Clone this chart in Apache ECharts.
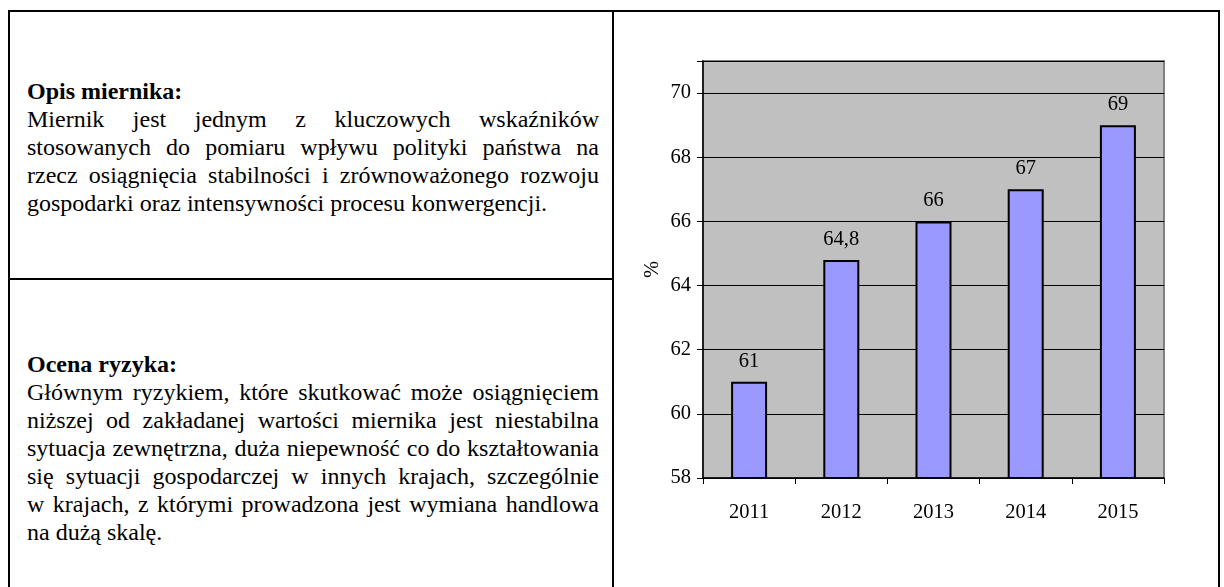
<!DOCTYPE html>
<html lang="pl">
<head>
    <meta charset="UTF-8">
    <title>Miernik</title>
    <script src="https://cdn.jsdelivr.net/npm/echarts@6/dist/echarts.min.js"></script>
    <style>
        body { margin: 0; background: #fff; }
        #frame { position: absolute; left: 8px; top: 10px; width: 1208px; height: 600px; border: 2px solid #000; }
        #divider { position: absolute; left: 602px; top: 0; width: 2px; height: 600px; background: #000; }
        #hline { position: absolute; left: 0; top: 266px; width: 602px; height: 2px; background: #000; }
        .cell { position: absolute; left: 17px; width: 572px; font-family: "Liberation Serif", "Times New Roman", serif; font-size: 24px; line-height: 28px; color: #000; display: flex; flex-direction: column; justify-content: center; }
        .cell b { display: block; }
        .ln { text-align: justify; text-align-last: justify; white-space: nowrap; }
        .ln.last { text-align-last: left; }
        #c1 { top: 2px; height: 266px; }
        #c2 { top: 270px; height: 332px; }
        #barDiv { position: absolute; left: 0; top: 0; width: 1224px; height: 587px; }
    </style>
</head>
<body>
    <div id="frame">
        <div id="divider"></div>
        <div id="hline"></div>
        <div class="cell" id="c1">
            <b>Opis miernika:</b>
            <div class="ln">Miernik jest jednym z kluczowych wskaźników</div>
            <div class="ln">stosowanych do pomiaru wpływu polityki państwa na</div>
            <div class="ln">rzecz osiągnięcia stabilności i zrównoważonego rozwoju</div>
            <div class="ln last">gospodarki oraz intensywności procesu konwergencji.</div>
        </div>
        <div class="cell" id="c2">
            <b>Ocena ryzyka:</b>
            <div class="ln">Głównym ryzykiem, które skutkować może osiągnięciem</div>
            <div class="ln">niższej od zakładanej wartości miernika jest niestabilna</div>
            <div class="ln">sytuacja zewnętrzna, duża niepewność co do kształtowania</div>
            <div class="ln">się sytuacji gospodarczej w innych krajach, szczególnie</div>
            <div class="ln">w krajach, z którymi prowadzona jest wymiana handlowa</div>
            <div class="ln last">na dużą skalę.</div>
        </div>
    </div>
    <div id="barDiv"></div>
    <script>
        var years = ['2011', '2012', '2013', '2014', '2015'];
        var values = [61, 64.8, 66, 67, 69];
        var yMin = 58, yMax = 71, yStep = 2;

        var chart = echarts.init(document.getElementById("barDiv"));
        var font = '"Liberation Serif", "Times New Roman", serif';

        var option = {
            animation: false,
            grid: {
                left: 703, right: 60, top: 61, bottom: 109,
                show: true,
                backgroundColor: '#C0C0C0',
                borderColor: '#808080',
                borderWidth: 2
            },
            xAxis: {
                type: 'category',
                data: years,
                axisLine: { lineStyle: { color: '#000', width: 1.5 } },
                axisTick: { show: true, length: 6, lineStyle: { color: '#000' } },
                axisLabel: { color: '#000', fontFamily: font, fontSize: 20.5, margin: 24 }
            },
            yAxis: {
                type: 'value',
                min: yMin,
                max: yMax,
                interval: yStep,
                name: '%',
                nameLocation: 'middle',
                nameRotate: 90,
                nameGap: 40,
                nameTextStyle: { color: '#000', fontFamily: font, fontSize: 20.5 },
                axisLine: { show: true, lineStyle: { color: '#000', width: 1.5 } },
                axisTick: { show: true, length: 6, lineStyle: { color: '#000' } },
                axisLabel: {
                    color: '#000', fontFamily: font, fontSize: 20.5, margin: 12,
                    formatter: function (v) { return v % yStep === 0 ? String(v) : ''; }
                },
                splitLine: { lineStyle: { color: '#000', width: 1 } }
            },
            series: [{
                type: 'bar',
                data: values,
                barWidth: 36,
                itemStyle: { color: '#9999FF', borderColor: '#000', borderWidth: 2 },
                label: {
                    show: true,
                    position: 'top',
                    distance: 10,
                    color: '#000',
                    fontFamily: font,
                    fontSize: 20.5,
                    formatter: function (p) { return String(p.value).replace('.', ','); }
                }
            }]
        };

        chart.setOption(option, true);
    </script>
</body>
</html>
